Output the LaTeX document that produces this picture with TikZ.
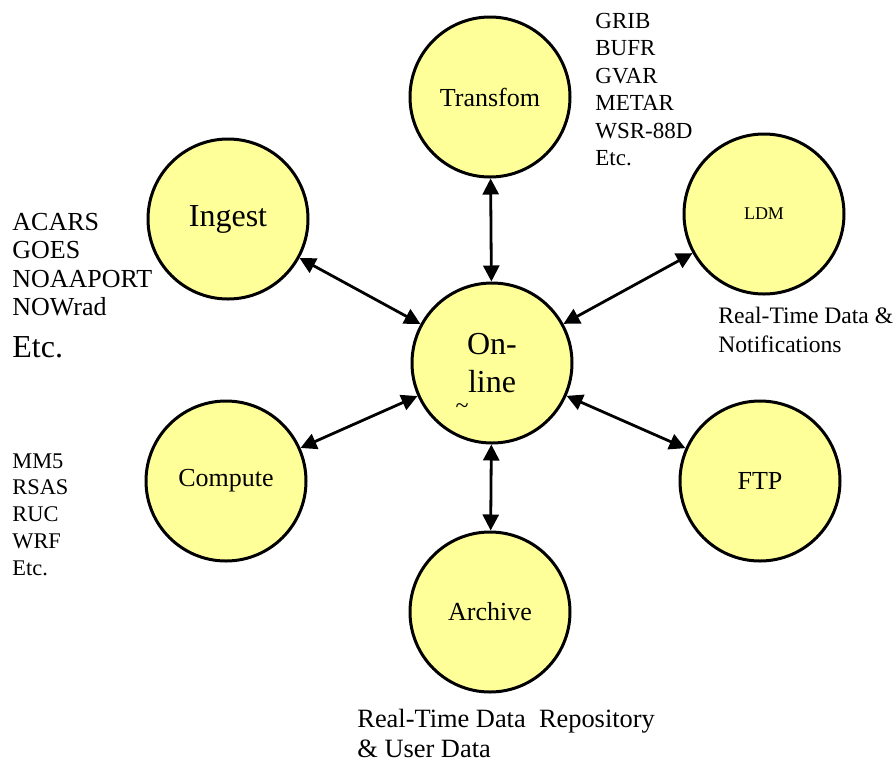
\documentclass[tikz,border=0pt]{standalone}
\usepackage{fontspec}
\setmainfont{Liberation Serif}
\usetikzlibrary{arrows.meta}
\definecolor{paleyellow}{HTML}{FFFF99}

\begin{document}
\begin{tikzpicture}[x=0.5pt, y=-0.5pt]
        \tikzstyle{stage} = [circle, draw=black, line width=1.5pt, fill=paleyellow, minimum size=80pt, inner sep=0pt, align=center, font=\fontsize{13}{15}\selectfont]
        \tikzstyle{link} = [{Triangle[length=8pt,width=8pt]}-{Triangle[length=8pt,width=8pt]}, line width=1.4pt]
        \tikzstyle{item} = [anchor=base west, inner sep=0pt]

        \useasboundingbox (0,0) rectangle (896,762);

        % the stages
        \node[stage, font=\fontsize{16}{19}\selectfont] (online) at (492,363) {On-\\line};
        \node[stage] (transform) at (490,97) {Transfom};
        \node[stage, font=\fontsize{16}{19}\selectfont] (ingest) at (228,219) {Ingest};
        \node[stage, font=\fontsize{9}{11}\selectfont] (ldm) at (764,214) {LDM};
        \node[stage] (compute) at (226,481) {Compute};
        \node[stage] (ftp) at (760,481) {FTP};
        \node[stage] (archive) at (490,612) {Archive};
        \node[inner sep=0pt, font=\fontsize{12}{14}\selectfont] (tilde) at (462,409) {\textasciitilde};

        % links to on-line
        \draw[link] (transform) -- (online);
        \draw[link] (ingest) -- (online);
        \draw[link] (ldm) -- (online);
        \draw[link] (compute) -- (online);
        \draw[link] (ftp) -- (online);
        \draw[link] (archive) -- (online);

        % data lists
        \foreach \t [count=\i] in {GRIB,BUFR,GVAR,METAR,WSR-88D,Etc.}
            \node[item, font=\fontsize{11.5}{14}\selectfont] (fmt\i) at (595,{28+27.5*(\i-1)}) {\t};

        \foreach \t [count=\i] in {ACARS,GOES,NOAAPORT,NOWrad}
            \node[item, font=\fontsize{13}{15}\selectfont] (feed\i) at (12,{230+28.5*(\i-1)}) {\t};
        \node[item, font=\fontsize{16}{19}\selectfont] (feed5) at (12,357) {Etc.};

        \foreach \t [count=\i] in {MM5,RSAS,RUC,WRF,Etc.}
            \node[item, font=\fontsize{11.2}{13}\selectfont] (model\i) at (12,{468+26.75*(\i-1)}) {\t};

        \node[item, font=\fontsize{11.8}{14}\selectfont] (ldmnote1) at (718,323) {Real-Time Data \&};
        \node[item, font=\fontsize{11.8}{14}\selectfont] (ldmnote2) at (718,352) {Notifications};

        \node[item, font=\fontsize{13.2}{16}\selectfont] (arcnote1) at (357,727) {Real-Time Data\ \ Repository};
        \node[item, font=\fontsize{13.2}{16}\selectfont] (arcnote2) at (357,757) {\& User Data};

    \end{tikzpicture}
\end{document}
